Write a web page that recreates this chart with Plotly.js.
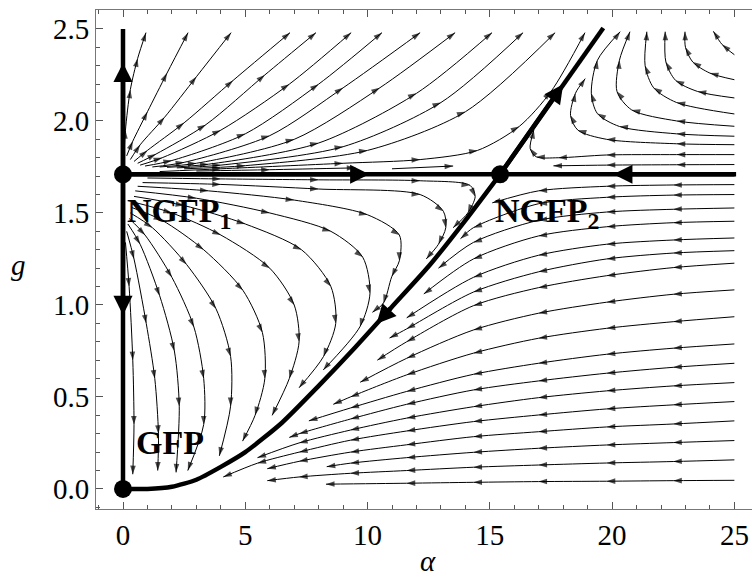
<!DOCTYPE html>
<html>
<head>
<meta charset="utf-8">
<script src="https://cdn.plot.ly/plotly-3.0.1.min.js"></script>
<style>html,body{margin:0;padding:0;background:#fff;}#chart{width:752px;height:579px;}</style>
</head>
<body>
<div id="chart"></div>
<script>
// ---- fixed points ----
const fixedPointX = [0, 0, 15.42];
const fixedPointY = [0, 1.71, 1.71];
const fixedPointNames = ["GFP", "NGFP<sub>1</sub>", "NGFP<sub>2</sub>"];

// ---- tick labels ----
const xTicks = [0, 5, 10, 15, 20, 25];
const yTicks = [0.0, 0.5, 1.0, 1.5, 2.0, 2.5];

// ---- separatrix (thick curve) ----
const sepLowX = [15.42, 14.0, 12.5, 11.0, 9.5, 8.0, 6.5, 5.0, 4.0, 3.0, 2.0, 1.0, 0.0];
const sepLowY = [1.71, 1.46, 1.21, 0.99, 0.77, 0.56, 0.36, 0.20, 0.12, 0.05, 0.012, 0.0, 0.0];
const sepHighX = [15.42, 19.64];
const sepHighY = [1.71, 2.505];

// ---- invariant lines (thick) ----
const gAxisX = [0, 0];          const gAxisY = [0.0, 2.5];
const gStarLineX = [0, 25.07];  const gStarLineY = [1.71, 1.71];

// ---- arrowheads on thick lines (tip and a point behind it on the same line) ----
const thickTipX  = [0, 0, 10.07, 20.05, 18.0, 10.37];
const thickTipY  = [2.315, 0.946, 1.71, 1.71, 2.2, 0.898];
const thickTailX = [0, 0, 0, 25.07, 15.42, 11.0];
const thickTailY = [1.71, 1.71, 1.71, 1.71, 1.71, 0.99];

// ---- thin streamlines: upper-left region ----
const upperLeftX = [
  [0.04,0.1,0.3,0.6,0.94],
  [0.15,0.4,1.0,1.8,2.66],
  [0.3,0.7,1.7,3.0,4.42],
  [0.45,1.0,2.5,4.5,6.83],
  [0.6,1.35,3.39,5.8,7.89],
  [0.7,1.6,4.0,6.8,9.33],
  [0.9,2.0,5.0,8.0,10.59],
  [1.2,2.5,6.0,9.0,12.15],
  [1.5,3.0,7.0,10.5,13.58],
  [1.8,3.5,8.0,12.0,15.09],
  [2.2,4.0,9.0,13.0,16.36],
  [2.5,5.0,10.0,14.0,17.67],
  [1.5,4.0,9.0,12.15,14.5,16.2,17.5,18.89],
  [3.0,6.0,9.5],
  [11.0,13.5]
];
const upperLeftY = [
  [1.81,1.95,2.17,2.34,2.48],
  [1.81,1.89,2.05,2.26,2.48],
  [1.79,1.87,2.02,2.24,2.48],
  [1.78,1.84,1.99,2.22,2.48],
  [1.77,1.82,1.98,2.25,2.48],
  [1.76,1.80,1.95,2.2,2.48],
  [1.755,1.785,1.93,2.2,2.48],
  [1.75,1.775,1.92,2.18,2.48],
  [1.75,1.77,1.9,2.18,2.48],
  [1.748,1.765,1.88,2.15,2.48],
  [1.745,1.76,1.86,2.1,2.48],
  [1.74,1.757,1.84,2.05,2.48],
  [1.725,1.74,1.77,1.79,1.84,1.97,2.16,2.48],
  [1.728,1.735,1.745],
  [1.74,1.755]
];

// ---- thin streamlines: valley region (between g axis and separatrix) ----
const valleyX = [
  [1.0,4,8,12.15,14.19,14.4,14.1,13.5],
  [0.8,4,8,12.15,13.1,13.2,12.9,12.4],
  [0.6,3.5,7,10,11.3,11.3,10.99,10.65,10.2],
  [0.5,3,6,8.5,9.8,10.1,9.69,8.19],
  [0.45,2.5,5,7.3,8.5,8.7,8.2,7.2],
  [0.4,2,4,6,7.0,7.2,6.8,6.1],
  [0.35,1.6,3.3,4.9,5.7,5.8,5.4,4.89],
  [0.3,1.2,2.6,3.8,4.4,4.4,3.94],
  [0.25,0.9,2.0,2.9,3.3,3.3,2.65],
  [0.2,0.7,1.5,2.1,2.3,2.17],
  [0.15,0.45,0.95,1.3,1.45,1.42],
  [0.1,0.25,0.4,0.45,0.4]
];
const valleyY = [
  [1.69,1.685,1.68,1.675,1.65,1.59,1.50,1.42],
  [1.665,1.655,1.63,1.60,1.509,1.42,1.33,1.25],
  [1.645,1.62,1.57,1.49,1.38,1.24,1.154,1.01,0.96],
  [1.62,1.58,1.50,1.40,1.26,1.064,0.882,0.647],
  [1.59,1.54,1.44,1.30,1.10,0.90,0.72,0.55],
  [1.56,1.50,1.38,1.20,1.0,0.8,0.6,0.4],
  [1.53,1.46,1.30,1.08,0.85,0.6,0.4,0.26],
  [1.50,1.42,1.22,0.98,0.72,0.45,0.18],
  [1.47,1.38,1.15,0.88,0.6,0.35,0.1],
  [1.44,1.33,1.05,0.75,0.45,0.09],
  [1.40,1.25,0.9,0.6,0.3,0.1],
  [1.34,1.1,0.7,0.35,0.08]
];

// ---- thin streamlines: lower-right region ----
const lowerRightX = [
  [25,22.5,19.78,16.99,14.33,11.6,10.4],
  [25,22.5,19.78,16.99,14.33,11.6,9.7],
  [25,22.5,19.78,16.99,14.33,11.6,9.3,8.6],
  [25,22.5,19.78,16.99,14.33,11.6,9.3,7.6],
  [25,22.5,19.78,16.99,14.33,11.6,9.3,7.2,6.8],
  [25,22.5,19.78,16.99,14.33,11.6,9.3,7.2,5.5],
  [25,22.5,19.78,16.99,14.33,11.6,9.3,7.2,5.5,4.1],
  [25,22.5,19.78,16.99,14.33,11.6,9.3,7.2,5.9],
  [25,22.5,19.78,16.99,14.33,11.6,9.3,8.33],
  [25,22.5,19.78,16.99,14.33,11.6,9.3,7.2,5.9],
  [25,22.5,19.78,16.99,14.33,11.6,8.3],
  [25,22.5,19.78,16.99,15.1],
  [25,22.5,19.78,16.99,14.33,13.8],
  [25,22.5,19.78,16.99,14.33,12.9],
  [25,22.5,19.78,16.99,14.33,12.3],
  [25,22.5,19.78,16.99,14.33,11.6],
  [25,22.5,19.78,16.99,14.33,11.6,10.9]
];
const lowerRightY = [
  [1.227,1.203,1.159,1.094,0.996,0.80,0.70],
  [1.082,1.058,1.015,0.955,0.864,0.71,0.58],
  [0.936,0.909,0.873,0.819,0.738,0.62,0.50,0.46],
  [0.788,0.765,0.732,0.683,0.623,0.53,0.44,0.37],
  [0.683,0.661,0.629,0.587,0.538,0.46,0.38,0.30,0.28],
  [0.578,0.560,0.533,0.496,0.447,0.385,0.32,0.25,0.17],
  [0.475,0.457,0.435,0.402,0.366,0.315,0.265,0.2,0.14,0.065],
  [0.370,0.353,0.337,0.311,0.284,0.24,0.2,0.15,0.11],
  [0.263,0.252,0.239,0.221,0.199,0.17,0.14,0.121],
  [0.158,0.149,0.141,0.130,0.118,0.10,0.085,0.065,0.045],
  [0.047,0.045,0.042,0.040,0.036,0.031,0.026],
  [1.654,1.652,1.645,1.62,1.555],
  [1.60,1.597,1.585,1.55,1.42,1.36],
  [1.527,1.52,1.505,1.46,1.34,1.2],
  [1.455,1.447,1.425,1.375,1.25,1.06],
  [1.364,1.353,1.33,1.27,1.15,0.93],
  [1.295,1.282,1.25,1.18,1.07,0.87,0.82]
];

// ---- thin streamlines: upper-right region ----
const upperRightX = [
  [25,24.5,24.14],
  [25,24.0,23.3,23.0,22.98],
  [25,23.5,22.6,22.2,22.17],
  [25,22.64,21.7,21.35,21.42],
  [25,22.64,20.8,20.2,20.3,20.73],
  [25,22.64,20.3,19.4,19.15,19.4,20.33],
  [25,22.64,19.78,18.6,18.3,18.5,18.9],
  [25,22.64,19.78,17.8,16.9,16.65,16.8],
  [25,22.64,19.78,17.6]
];
const upperRightY = [
  [2.36,2.415,2.487],
  [2.224,2.26,2.32,2.4,2.485],
  [2.125,2.16,2.22,2.32,2.485],
  [2.038,2.1,2.18,2.3,2.485],
  [1.971,2.0,2.06,2.16,2.33,2.485],
  [1.917,1.93,1.97,2.04,2.15,2.33,2.485],
  [1.871,1.876,1.9,1.95,2.03,2.15,2.23],
  [1.817,1.817,1.815,1.8,1.805,1.85,1.95],
  [1.763,1.762,1.76,1.756]
];

// ---------- build traces ----------
const traces = [];
function thin(xs, ys) {
  for (let i = 0; i < xs.length; i++) {
    traces.push({
      type: 'scatter', mode: 'lines+markers', x: xs[i], y: ys[i],
      line: {color: '#000', width: 1, shape: 'spline', smoothing: 0.8},
      marker: {symbol: 'arrow', angleref: 'previous', color: '#000',
               size: xs[i].map((v, j) => j === 0 ? 0 : 9), line: {width: 0}},
      hoverinfo: 'skip', showlegend: false
    });
  }
}
thin(upperLeftX, upperLeftY);
thin(valleyX, valleyY);
thin(lowerRightX, lowerRightY);
thin(upperRightX, upperRightY);

function thick(x, y, spline) {
  traces.push({
    type: 'scatter', mode: 'lines', x: x, y: y,
    line: {color: '#000', width: 4.5, shape: spline ? 'spline' : 'linear', smoothing: 0.6},
    hoverinfo: 'skip', showlegend: false, cliponaxis: false
  });
}
thick(gAxisX, gAxisY);
thick(gStarLineX, gStarLineY);
thick(sepLowX, sepLowY, true);
thick(sepHighX, sepHighY);

traces.push({
  type: 'scatter', mode: 'markers', x: fixedPointX, y: fixedPointY,
  marker: {symbol: 'circle', size: 18, color: '#000'},
  hoverinfo: 'skip', showlegend: false, cliponaxis: false
});

const serif = 'Liberation Serif, Times New Roman, serif';
const labelFont = {family: serif, size: 34, color: '#000'};
const annotations = [
  {x: 0.08, y: 1.50, xref: 'x', yref: 'y', text: '<b>' + fixedPointNames[1] + '</b>', showarrow: false, xanchor: 'left', yanchor: 'middle', font: labelFont},
  {x: 15.13, y: 1.50, xref: 'x', yref: 'y', text: '<b>' + fixedPointNames[2] + '</b>', showarrow: false, xanchor: 'left', yanchor: 'middle', font: labelFont},
  {x: 0.45, y: 0.25, xref: 'x', yref: 'y', text: '<b>' + fixedPointNames[0] + '</b>', showarrow: false, xanchor: 'left', yanchor: 'middle', font: labelFont},
  {x: 0.506, y: -0.105, xref: 'paper', yref: 'paper', text: '<i>α</i>', showarrow: false, xanchor: 'center', yanchor: 'middle', font: {family: serif, size: 29, color: '#000'}},
  {x: -0.118, y: 0.489, xref: 'paper', yref: 'paper', text: '<i>g</i>', showarrow: false, xanchor: 'center', yanchor: 'middle', font: {family: serif, size: 29, color: '#000'}}
];
for (let i = 0; i < thickTipX.length; i++) {
  annotations.push({
    x: thickTipX[i], y: thickTipY[i], ax: thickTailX[i], ay: thickTailY[i],
    xref: 'x', yref: 'y', axref: 'x', ayref: 'y', text: '', showarrow: true,
    arrowhead: 2, arrowsize: 0.85, arrowwidth: 4.5, arrowcolor: '#000', standoff: 0, startstandoff: 0
  });
}

const tickFont = {family: serif, size: 29, color: '#000'};
const layout = {
  width: 752, height: 579,
  margin: {l: 96, r: 0, t: 10, b: 70, pad: 0},
  paper_bgcolor: '#fff', plot_bgcolor: '#fff',
  showlegend: false,
  xaxis: {
    range: [-1.104, 25.72], tickvals: xTicks, ticktext: xTicks.map(String),
    ticks: 'inside', ticklen: 7, tickwidth: 1, tickcolor: '#555',
    showline: true, linecolor: '#777', linewidth: 1, mirror: 'ticks',
    showgrid: false, zeroline: false, tickfont: tickFont,
    minor: {dtick: 1, tick0: 0, ticks: 'inside', ticklen: 4, tickcolor: '#555', tickwidth: 1, showgrid: false}
  },
  yaxis: {
    range: [-0.109, 2.603], tickvals: yTicks, ticktext: yTicks.map(v => v.toFixed(1)),
    ticks: 'inside', ticklen: 7, tickwidth: 1, tickcolor: '#555',
    showline: true, linecolor: '#777', linewidth: 1, mirror: false,
    showgrid: false, zeroline: false, tickfont: tickFont,
    minor: {dtick: 0.1, tick0: 0, ticks: 'inside', ticklen: 4, tickcolor: '#555', tickwidth: 1, showgrid: false}
  },
  annotations: annotations
};

Plotly.newPlot('chart', traces, layout, {staticPlot: true, displayModeBar: false});
</script>
</body>
</html>
